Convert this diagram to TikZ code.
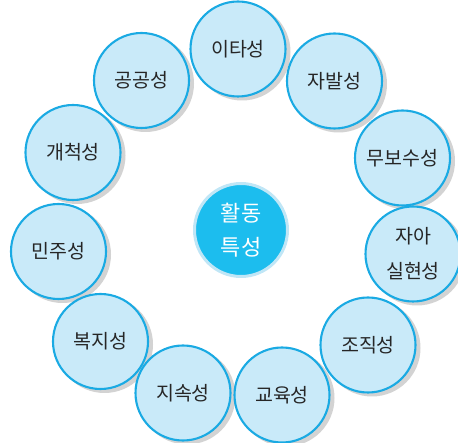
\documentclass[tikz,border=0pt]{standalone}
\usepackage{fontspec}
\setmainfont{Noto Sans CJK KR}
\usetikzlibrary{backgrounds}
\definecolor{ringblue}{HTML}{1AAAE3}
\definecolor{lightfill}{HTML}{C9EAF9}
\definecolor{centerfill}{HTML}{1CBDEE}
\definecolor{centerring}{HTML}{C0E6F6}
\definecolor{shadowc}{HTML}{D3D3D3}
\tikzset{
  trait/.style={circle, draw=ringblue, line width=2.1pt, fill=lightfill,
    minimum size=95pt, inner sep=0pt, text=black!85, align=center,
    font=\fontsize{19.5}{35}\selectfont},
  hub/.style={circle, draw=centerring, line width=3pt, fill=centerfill,
    minimum size=93pt, inner sep=0pt, text=white, align=center,
    font=\fontsize{22}{34}\selectfont},
  shade/.style={fill=shadowc}
}
\begin{document}
\begin{tikzpicture}[x=1pt,y=-1pt]
\useasboundingbox (0,0) rectangle (458,443);
\node[hub] (c) at (241,230) {활동\\특성};
\node[trait] (n1) at (238,49) {이타성};
\node[trait] (n2) at (334.5,81) {자발성};
\node[trait] (n3) at (402.5,158) {무보수성};
\node[trait] (n4) at (413,254) {자아\\실현성};
\node[trait] (n5) at (368,345) {조직성};
\node[trait] (n6) at (282,395) {교육성};
\node[trait] (n7) at (183,393) {지속성};
\node[trait] (n8) at (100.5,341.5) {복지성};
\node[trait] (n9) at (58.5,251.5) {민주성};
\node[trait] (n10) at (73,152.5) {개척성};
\node[trait] (n11) at (141.5,80.5) {공공성};
\begin{scope}[on background layer]
\foreach \n in {n1,n2,n3,n4,n5,n6,n7,n8,n9,n10,n11}
  \fill[shade] ([shift={(4,3)}]\n.center) circle (48.5);
\end{scope}
\end{tikzpicture}
\end{document}
